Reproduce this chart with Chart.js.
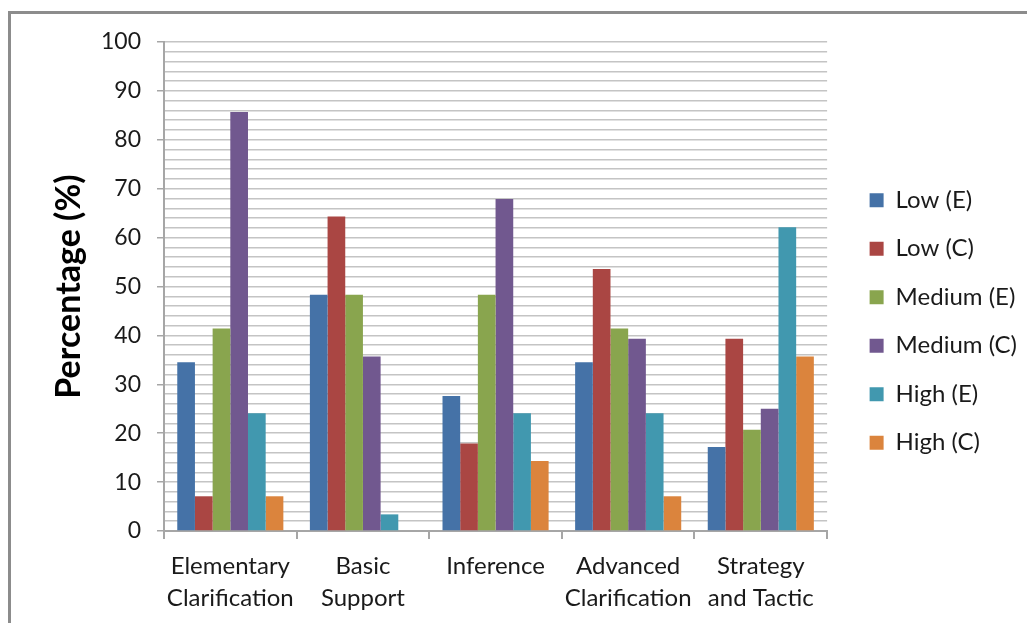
<!DOCTYPE html>
<html>
<head>
<meta charset="utf-8">
<script src="https://cdn.jsdelivr.net/npm/chart.js@4"></script>
<style>
  html, body { margin: 0; padding: 0; background: #fff; overflow: hidden; }
  #wrap { position: absolute; left: 0; top: 0; width: 1027px; height: 623px; }
  #frame { position: absolute; left: 8px; top: 11px; width: 1100px; height: 700px;
           border-left: 3px solid #8c8c8c; border-top: 3px solid #8c8c8c; pointer-events: none; }
</style>
</head>
<body>
<div id="wrap"><canvas id="c" width="1027" height="623"></canvas></div>
<div id="frame"></div>
<script>
const categories = [["Elementary","Clarification"], ["Basic","Support"], "Inference", ["Advanced","Clarification"], ["Strategy","and Tactic"]];
const seriesNames = ["Low (E)", "Low (C)", "Medium (E)", "Medium (C)", "High (E)", "High (C)"];
const lowE    = [34.5, 48.3, 27.6, 34.5, 17.2];
const lowC    = [7.1, 64.3, 17.9, 53.6, 39.3];
const mediumE = [41.4, 48.3, 48.3, 41.4, 20.7];
const mediumC = [85.7, 35.7, 67.9, 39.3, 25.0];
const highE   = [24.1, 3.4, 24.1, 24.1, 62.1];
const highC   = [7.1, 0, 14.3, 7.1, 35.7];
const colors  = ["#4572A7", "#AA4643", "#89A54E", "#71588F", "#4198AF", "#DB843D"];
const yTitle = "Percentage (%)";

const seriesValues = [lowE, lowC, mediumE, mediumC, highE, highC];
const FONT = "Lato";

new Chart(document.getElementById('c'), {
  type: 'bar',
  data: {
    labels: categories,
    datasets: seriesNames.map((n, i) => ({
      label: n,
      data: seriesValues[i],
      backgroundColor: colors[i],
      borderWidth: 0,
      categoryPercentage: 0.8,
      barPercentage: 1.0
    }))
  },
  options: {
    responsive: false,
    animation: false,
    devicePixelRatio: 1,
    layout: { padding: { left: 30, top: 20, right: 0, bottom: 0 } },
    plugins: {
      legend: {
        position: 'right',
        maxWidth: 183,
        labels: {
          boxWidth: 14, boxHeight: 14, padding: 24.5,
          color: '#1a1a1a',
          font: { family: FONT, size: 24 }
        }
      },
      tooltip: { enabled: false }
    },
    scales: {
      x: {
        grid: { display: true, drawOnChartArea: false, drawTicks: true, tickLength: 8, offset: true, color: '#a6a6a6', tickColor: '#a6a6a6', lineWidth: 2 },
        border: { display: true, color: '#a6a6a6', width: 2 },
        ticks: { color: '#1a1a1a', font: { family: FONT, size: 24, lineHeight: 1.33 }, padding: 11, maxRotation: 0, autoSkip: false },
        afterFit: s => { s.height = 92; }
      },
      xTop: {
        axis: 'x', type: 'linear', position: 'top', display: true,
        grid: { display: false, drawTicks: false },
        border: { display: false },
        ticks: { display: false },
        afterFit: s => { s.height = 22; }
      },
      y: {
        min: 0, max: 100,
        grid: {
          color: '#c4c4c4', lineWidth: 1.5, tickLength: 7,
          tickColor: ctx => (ctx.tick && ctx.tick.value % 10 === 0) ? '#a6a6a6' : 'rgba(0,0,0,0)'
        },
        border: { display: true, color: '#a6a6a6', width: 2 },
        ticks: {
          stepSize: 2, autoSkip: false, padding: 16, color: '#1a1a1a',
          font: { family: FONT, size: 23 },
          callback: v => (v % 10 === 0 ? v : '')
        },
        title: { display: true, text: yTitle, color: '#000', font: { family: FONT, size: 34, weight: 'bold' }, padding: { top: 19, bottom: 0 } },
        afterFit: s => { s.width = 134; }
      },
      y2: {
        axis: 'y', type: 'linear', position: 'right', display: true,
        grid: { display: false, drawTicks: false },
        border: { display: false },
        ticks: { display: false },
        afterFit: s => { s.width = 18; }
      }
    }
  }
});
</script>
</body>
</html>
